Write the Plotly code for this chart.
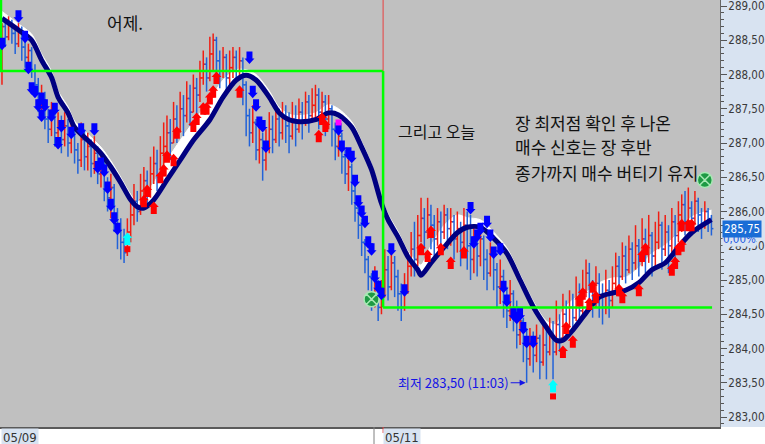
import plotly.graph_objects as go

# ---------------- data ----------------
first_open = 288.05
close = [
    288.70, 288.55, 288.75, 288.60, 288.45, 288.65, 288.40, 288.25, 288.35, 288.05,
    287.85, 287.55, 287.70, 287.35, 287.20, 287.45, 287.15, 287.30, 287.05, 287.25,
    287.00, 287.20, 286.90, 286.75, 287.05, 286.80, 286.95, 286.70, 286.85, 286.55,
    286.70, 286.40, 286.20, 286.35, 285.95, 285.75, 285.55, 285.40, 285.70, 285.95,
    286.15, 286.00, 286.30, 286.45, 286.25, 286.55, 286.70, 286.50, 286.85, 286.95,
    287.15, 287.00, 287.35, 287.20, 287.50, 287.40, 287.65, 287.45, 287.80, 287.70,
    287.95, 288.15, 287.95, 288.30, 288.50, 288.20, 288.05, 288.25, 287.95, 288.10,
    288.25, 288.05, 288.20, 287.85, 287.40, 287.15, 287.30, 286.90, 287.05, 286.75,
    286.95, 287.20, 287.05, 287.35, 287.15, 287.40, 287.25, 287.10, 287.35, 287.20,
    287.45, 287.30, 287.60, 287.40, 287.55, 287.70, 287.45, 287.60, 287.35, 287.50,
    287.20, 286.95, 287.10, 286.80, 286.55, 286.65, 286.30, 286.05, 285.80, 285.55,
    285.30, 285.05, 284.80, 284.95, 284.60, 284.75,
    285.15, 284.90, 285.25, 285.05, 284.80, 284.60, 284.85, 285.20, 285.45, 285.30,
    285.65, 285.90, 285.70, 285.95, 285.80, 285.60, 285.85, 285.70, 285.95, 285.75,
    285.85, 285.60, 285.75, 285.55, 285.80, 285.50, 285.30, 285.55, 285.35, 285.60,
    285.30, 285.10, 285.40, 285.15, 284.90, 285.05, 284.75, 284.55, 284.80, 284.45,
    284.20, 284.40, 284.05, 283.85, 284.10, 283.90, 284.15, 283.80, 284.05, 283.95,
    284.20, 283.95, 284.35, 284.15, 284.50, 284.30, 284.60, 284.45, 284.75, 284.55,
    284.85, 285.10, 284.90, 284.70, 284.95, 284.75, 284.60, 284.85, 284.70, 284.95,
    285.20, 285.05, 285.35, 285.15, 285.45, 285.25, 285.50, 285.30, 285.60, 285.40,
    285.65, 285.35, 285.55, 285.80, 285.45, 285.70, 285.50, 285.85, 285.65, 285.95,
    286.10, 285.85, 286.05, 285.90, 286.15, 285.95, 285.80, 286.00, 285.85, 285.75,
]
high = [
    288.75, 288.80, 288.85, 288.80, 288.70, 288.75, 288.70, 288.50, 288.45, 288.40,
    288.15, 287.95, 287.85, 287.75, 287.50, 287.60, 287.50, 287.45, 287.40, 287.45,
    287.35, 287.40, 287.25, 287.00, 287.30, 287.20, 287.15, 287.05, 287.10, 286.95,
    286.85, 286.75, 286.50, 286.55, 286.40, 286.05, 285.90, 285.75, 285.90, 286.20,
    286.40, 286.30, 286.55, 286.65, 286.60, 286.80, 286.95, 286.90, 287.10, 287.30,
    287.40, 287.35, 287.60, 287.55, 287.75, 287.70, 287.90, 287.85, 288.00, 287.95,
    288.20, 288.35, 288.25, 288.55, 288.60, 288.55, 288.35, 288.40, 288.30, 288.35,
    288.40, 288.35, 288.40, 288.25, 287.90, 287.50, 287.55, 287.35, 287.30, 287.15,
    287.20, 287.45, 287.40, 287.55, 287.50, 287.60, 287.55, 287.45, 287.60, 287.55,
    287.65, 287.60, 287.75, 287.70, 287.80, 287.85, 287.80, 287.75, 287.70, 287.70,
    287.55, 287.30, 287.25, 287.15, 286.90, 286.85, 286.70, 286.40, 286.15, 285.90,
    285.60, 285.35, 285.10, 285.20, 285.00, 285.00,
    285.45, 285.35, 285.45, 285.35, 285.15, 284.95, 285.10, 285.40, 285.70, 285.85,
    285.95, 286.20, 286.05, 286.20, 286.10, 285.95, 286.05, 286.00, 286.10, 286.05,
    286.05, 285.95, 286.00, 285.85, 286.05, 286.00, 285.95, 285.80, 285.65, 285.80,
    285.65, 285.45, 285.55, 285.45, 285.25, 285.30, 285.15, 284.90, 285.00, 284.85,
    284.70, 284.55, 284.45, 284.30, 284.30, 284.25, 284.35, 284.20, 284.35, 284.30,
    284.45, 284.40, 284.70, 284.50, 284.80, 284.70, 284.85, 284.80, 285.05, 284.95,
    285.15, 285.30, 285.25, 285.00, 285.20, 285.10, 284.95, 285.15, 285.00, 285.20,
    285.40, 285.35, 285.55, 285.50, 285.65, 285.55, 285.80, 285.60, 285.90, 285.75,
    285.95, 285.70, 285.85, 286.00, 285.85, 285.95, 285.80, 286.05, 285.95, 286.15,
    286.25, 286.30, 286.35, 286.15, 286.30, 286.20, 286.05, 286.15, 286.05, 285.95,
]
low = [
    287.85, 288.40, 288.50, 288.45, 288.30, 288.40, 288.20, 288.10, 288.15, 287.95,
    287.75, 287.45, 287.40, 287.20, 287.00, 287.10, 286.95, 287.05, 286.85, 286.95,
    286.80, 286.85, 286.70, 286.55, 286.65, 286.60, 286.60, 286.50, 286.55, 286.40,
    286.35, 286.15, 286.00, 285.90, 285.70, 285.45, 285.30, 285.25, 285.35, 285.55,
    285.80, 285.85, 285.95, 286.15, 286.05, 286.20, 286.40, 286.30, 286.45, 286.60,
    286.85, 286.75, 287.00, 287.00, 287.15, 287.10, 287.30, 287.25, 287.45, 287.40,
    287.60, 287.85, 287.75, 287.90, 288.05, 287.95, 287.80, 287.95, 287.75, 287.85,
    287.95, 287.90, 287.95, 287.55, 287.10, 286.95, 287.00, 286.75, 286.70, 286.45,
    286.60, 286.85, 286.85, 287.00, 286.95, 287.05, 287.00, 286.85, 287.05, 286.95,
    287.15, 287.05, 287.25, 287.15, 287.30, 287.35, 287.20, 287.30, 287.10, 287.20,
    286.95, 286.75, 286.80, 286.55, 286.40, 286.30, 286.10, 285.85, 285.60, 285.35,
    285.10, 284.85, 284.55, 284.60, 284.40, 284.50,
    284.75, 284.70, 284.85, 284.75, 284.55, 284.40, 284.55, 284.80, 285.05, 285.05,
    285.20, 285.55, 285.45, 285.60, 285.45, 285.35, 285.50, 285.40, 285.60, 285.45,
    285.50, 285.30, 285.40, 285.20, 285.35, 285.15, 285.00, 285.10, 285.05, 285.20,
    285.00, 284.85, 285.05, 284.85, 284.60, 284.65, 284.45, 284.30, 284.40, 284.25,
    284.00, 284.05, 283.80, 283.50, 283.75, 283.65, 283.80, 283.55, 283.75, 283.55,
    283.90, 283.55, 283.90, 283.95, 284.10, 284.15, 284.30, 284.25, 284.40, 284.35,
    284.50, 284.75, 284.65, 284.45, 284.60, 284.45, 284.35, 284.50, 284.45, 284.60,
    284.80, 284.85, 285.00, 284.95, 285.10, 285.00, 285.15, 285.05, 285.20, 285.10,
    285.25, 285.05, 285.20, 285.45, 285.15, 285.35, 285.10, 285.40, 285.30, 285.55,
    285.70, 285.65, 285.75, 285.65, 285.80, 285.70, 285.60, 285.75, 285.70, 285.65,
]
session_break = 115.5
date_labels = ["05/09", "05/11"]

ma_idx = [0, 5, 9, 12, 15, 17, 20, 22, 26, 30, 33, 36, 39, 41, 43, 46, 50, 54, 58, 63,
          67, 71, 74, 77, 81, 84, 87, 90, 95, 99, 102, 106, 109, 112, 115, 117, 120, 123,
          126, 127, 130, 134, 138, 141, 145, 149, 153, 157, 161, 165, 168, 170, 173, 177,
          181, 185, 189, 193, 197, 201, 205, 209, 215]
ma_slow = [288.82, 288.65, 288.50, 288.21, 287.96, 287.67, 287.44, 287.23, 287.04, 286.85,
           286.65, 286.42, 286.17, 286.07, 286.05, 286.17, 286.46, 286.75, 287.04, 287.34,
           287.67, 287.92, 287.99, 287.92, 287.67, 287.44, 287.34, 287.31, 287.34, 287.44,
           287.41, 287.23, 286.94, 286.61, 286.12, 285.88, 285.63, 285.34, 285.15, 285.07,
           285.25, 285.48, 285.69, 285.77, 285.77, 285.61, 285.39, 285.00, 284.61, 284.31,
           284.12, 284.12, 284.27, 284.52, 284.75, 284.81, 284.85, 284.96, 285.15, 285.25,
           285.48, 285.69, 285.88]
ma_fast = [288.92, 288.74, 288.59, 288.30, 288.05, 287.76, 287.53, 287.32, 287.13, 286.94,
           286.74, 286.50, 286.25, 286.14, 286.23, 286.42, 286.75, 287.04, 287.31, 287.63,
           287.92, 288.07, 288.07, 288.00, 287.76, 287.52, 287.42, 287.40, 287.44, 287.56,
           287.50, 287.31, 287.02, 286.69, 286.20, 285.96, 285.71, 285.42, 285.25, 285.22,
           285.50, 285.80, 285.95, 285.91, 285.88, 285.70, 285.47, 285.08, 284.69, 284.40,
           284.35, 284.56, 284.71, 284.82, 284.96, 285.03, 285.04, 285.18, 285.39, 285.51,
           285.69, 285.92, 286.02]

sell_x = [0, 5, 7, 8, 9, 10, 11, 12, 13, 12, 15, 16, 18, 17, 21, 24, 28, 29, 30, 31, 32, 33, 34, 35,
          75, 76, 77, 78, 79, 80,
          102, 103, 105, 106, 107, 108, 109, 110, 111, 112, 113, 114, 115,
          118, 122, 142, 143, 144, 145, 147, 148, 149, 151, 152, 153, 155, 156, 157, 158, 159, 161]
sell_y = [288.45, 288.85, 288.55, 288.10, 287.80, 287.75, 287.55, 287.65, 287.55, 287.40, 287.40,
          287.50, 287.25, 287.00, 287.15, 287.20, 287.20, 286.65, 286.70, 286.60, 286.35, 286.10,
          285.90, 285.75,
          288.25, 287.75, 287.55, 287.30, 287.25, 286.95,
          287.20, 286.95, 286.85, 286.80, 286.45, 286.15, 286.00, 285.85, 285.55, 285.45, 285.05,
          284.90, 284.80,
          285.45, 284.85, 286.05, 285.55, 285.65, 285.75, 285.85, 285.65, 285.40, 285.45, 284.90,
          284.70, 284.50, 284.45, 284.50, 284.30, 284.10, 284.10]
buy_x = [43, 44, 46, 48, 49, 50, 52, 53, 58, 59, 61, 62, 63, 64, 65, 72, 96, 97, 98,
         127, 129, 130, 133, 136, 140, 170, 171, 173, 175, 176, 178, 179, 180, 187, 188, 193,
         194, 195, 203, 204, 205, 206, 206, 208, 209]
buy_y = [286.15, 286.30, 286.05, 286.50, 286.60, 286.80, 286.75, 287.15, 287.25, 287.35, 287.50,
         287.50, 287.65, 287.75, 287.95, 287.75, 287.10, 287.35, 287.25,
         285.45, 285.35, 285.70, 285.45, 285.25, 285.40, 283.95, 284.30, 284.10, 284.70, 284.80,
         284.65, 284.90, 284.75, 284.85, 284.75, 284.85, 285.35, 285.45, 285.15, 285.25, 285.45,
         285.50, 285.80, 285.80, 285.80]
bottom_x = [38, 167]
bottom_y = [285.60, 283.45]
bottom_sq_y = [285.45, 283.30]
warn_x = [102]
warn_y = [287.30]
stop_x = [112, 213]
stop_y = [284.72, 286.46]
level_prev = 288.05
level_today = 284.60
low_point_x = 159
low_point_y = 283.50
low_text = "최저 283,50 (11:03)"
notes = ["어제.", "그리고 오늘", "장 최저점 확인 후 나온", "매수 신호는 장 후반", "종가까지 매수 버티기 유지"]

# ---------------- styling ----------------
W, H = 720, 427
YMIN = 283 - 10 / 68.5
YMAX = 283 + 417 / 68.5
RED_BAR = "#f01e14"
BLUE_BAR = "#2262d8"
PANEL = "#d8e3f1"
KFONT = "Noto Sans CJK KR"
NFONT = "DejaVu Sans Condensed, sans-serif"


def px(x):
    return x / W


def py(y):
    return 1 - y / H


opens = [first_open] + close[:-1]
tick = 0.6
bars = {"up": ([], []), "down": ([], [])}
for i, (o, h, l, c) in enumerate(zip(opens, high, low, close)):
    key = "up" if c > o else "down"
    xs, ys = bars[key]
    xs += [i, i, None, i - tick, i, None, i, i + tick, None]
    ys += [l, h, None, o, o, None, c, c, None]

fig = go.Figure()
fig.add_trace(go.Scatter(x=ma_idx, y=ma_slow, mode="lines",
                         line=dict(width=0, shape="spline", smoothing=0.8)))
fig.add_trace(go.Scatter(x=ma_idx, y=ma_fast, mode="lines", fill="tonexty",
                         fillcolor="#ffffff",
                         line=dict(width=1, color="#ffffff", shape="spline", smoothing=0.8)))
fig.add_trace(go.Scatter(x=bars["up"][0], y=bars["up"][1], mode="lines",
                         line=dict(color=RED_BAR, width=1.5)))
fig.add_trace(go.Scatter(x=bars["down"][0], y=bars["down"][1], mode="lines",
                         line=dict(color=BLUE_BAR, width=1.5)))
fig.add_trace(go.Scatter(x=ma_idx, y=ma_slow, mode="lines",
                         line=dict(width=5, color="#000080", shape="spline", smoothing=0.8)))
fig.add_trace(go.Scatter(x=stop_x, y=stop_y, mode="markers",
                         marker=dict(symbol="circle-x", size=15, color="#1e9a44",
                                     line=dict(color="#a8e8b4", width=1.5))))

shapes = []
shapes.append(dict(type="rect", xref="paper", yref="paper", x0=1, x1=765 / W, y0=0, y1=1,
                   fillcolor=PANEL, line=dict(width=0), layer="below"))
GREEN = "#00ff00"
shapes.append(dict(type="line", xref="x", yref="y", x0=-0.3, x1=-0.3, y0=level_prev, y1=YMAX,
                   line=dict(color=GREEN, width=2.5)))
shapes.append(dict(type="line", xref="x", yref="y", x0=-0.6, x1=session_break, y0=level_prev,
                   y1=level_prev, line=dict(color=GREEN, width=2.5)))
shapes.append(dict(type="line", xref="x", yref="y", x0=session_break, x1=session_break,
                   y0=level_prev, y1=YMAX, line=dict(color="#e84040", width=1)))
shapes.append(dict(type="line", xref="x", yref="y", x0=session_break, x1=session_break,
                   y0=level_today, y1=level_prev, line=dict(color=GREEN, width=2.5)))
shapes.append(dict(type="line", xref="x", yref="y", x0=session_break, x1=len(close) - 0.8,
                   y0=level_today, y1=level_today, line=dict(color=GREEN, width=2.5)))

DOWN = "M -3 6 L 3 6 L 3 -1 L 5 -1 L 0 -6.5 L -5 -1 L -3 -1 Z"
UP = "M -3 -6 L 3 -6 L 3 1 L 5 1 L 0 6.5 L -5 1 L -3 1 Z"
SQ = "M -3 -3 L 3 -3 L 3 3 L -3 3 Z"


def mark(x, y, path, color):
    return dict(type="path", xref="x", yref="y", xsizemode="pixel", ysizemode="pixel",
                xanchor=x, yanchor=y, path=path, fillcolor=color, line=dict(width=0))


for x, y in zip(sell_x, sell_y):
    shapes.append(mark(x, y, DOWN, "#0000ff"))
for x, y in zip(buy_x, buy_y):
    shapes.append(mark(x, y, UP, "#ff0000"))
for x, y, s in zip(bottom_x, bottom_y, bottom_sq_y):
    shapes.append(mark(x, y, UP, "#00ffff"))
    shapes.append(mark(x, s, SQ, "#ff0000"))
for x, y in zip(warn_x, warn_y):
    shapes.append(mark(x, y, SQ, "#ff00ff"))
shapes.append(dict(type="line", xref="paper", yref="paper", x0=px(374), x1=px(374),
                   y0=0, y1=py(444), line=dict(color="#808080", width=1)))
shapes.append(dict(type="line", xref="x", yref="paper", x0=session_break, x1=session_break,
                   y0=0, y1=py(433), line=dict(color="#e84040", width=1)))

ann = []


def note(text, x, y, size, xanchor="center", color="#111111", family=KFONT, **kw):
    return dict(xref="paper", yref="paper", x=px(x), y=py(y), text=text, showarrow=False,
                xanchor=xanchor, yanchor="middle",
                font=dict(family=family, size=size, color=color), **kw)


ann.append(note(notes[0], 125, 22, 17))
ann.append(note(notes[1], 437, 131, 16))
for k, yy in zip(range(2, 5), [122, 147, 172]):
    ann.append(note(notes[k], 513, yy, 17, xanchor="left"))
ann.append(dict(x=low_point_x, y=low_point_y, xref="x", yref="y", text=low_text,
                showarrow=True, ax=-73, ay=0, arrowhead=2, arrowsize=1, arrowwidth=1.2,
                arrowcolor="#1414e6", standoff=1,
                font=dict(family=KFONT, size=13, color="#1414e6")))
chg = 0.0
ann.append(note(f"{chg:.2f}%".replace(".", ","), 722, 239, 11.5, xanchor="left",
                color="#1e5ae0", family=NFONT, bgcolor=PANEL, borderpad=0))
last = close[-1]
ann.append(dict(xref="paper", yref="y", x=px(722), y=last, xanchor="left", yanchor="middle",
                text=f"{last:.2f}".replace(".", ","), showarrow=False, bgcolor="#1a6dd6",
                borderpad=1, font=dict(family=NFONT, size=11.5, color="#ffffff")))
ann.append(dict(xref="paper", yref="paper", x=px(1), y=py(428), xanchor="left",
                yanchor="top", text=date_labels[0], showarrow=False, bgcolor=PANEL,
                borderpad=1, font=dict(family=NFONT, size=13, color="#333333")))
ann.append(dict(xref="paper", yref="paper", x=px(383), y=py(428), xanchor="left",
                yanchor="top", text=date_labels[1], showarrow=False, bgcolor=PANEL,
                borderpad=1, font=dict(family=NFONT, size=13, color="#333333")))

fig.update_layout(
    width=765, height=444, margin=dict(l=0, r=45, t=0, b=17, autoexpand=False),
    paper_bgcolor="#ffffff", plot_bgcolor="#c0c0c0", showlegend=False,
    separators=", ", hovermode=False, shapes=shapes, annotations=ann,
    xaxis=dict(range=[-0.6, 217.6], showgrid=False, zeroline=False, showticklabels=False,
               ticks="", showline=True, linecolor="#5a5a5a", linewidth=2, fixedrange=True,
               automargin=False),
    yaxis=dict(range=[YMIN, YMAX], side="right", tick0=283, dtick=0.5, tickformat=".2f",
               ticks="outside", ticklen=6, tickcolor="#555555", showline=True,
               linecolor="#666666", linewidth=1, showgrid=False, zeroline=False,
               tickfont=dict(family=NFONT, size=11.5, color="#3a3a3a"), fixedrange=True,
               automargin=False, ticklabelstandoff=-1, ticklabeloverflow="allow",
               minor=dict(dtick=0.1, ticks="outside", ticklen=3, tickcolor="#555555")),
)
fig.write_html("out.html", config={"displayModeBar": False},
               post_script="document.body.style.margin='0';document.body.style.padding='0';"
                           "document.body.style.overflow='hidden';")
